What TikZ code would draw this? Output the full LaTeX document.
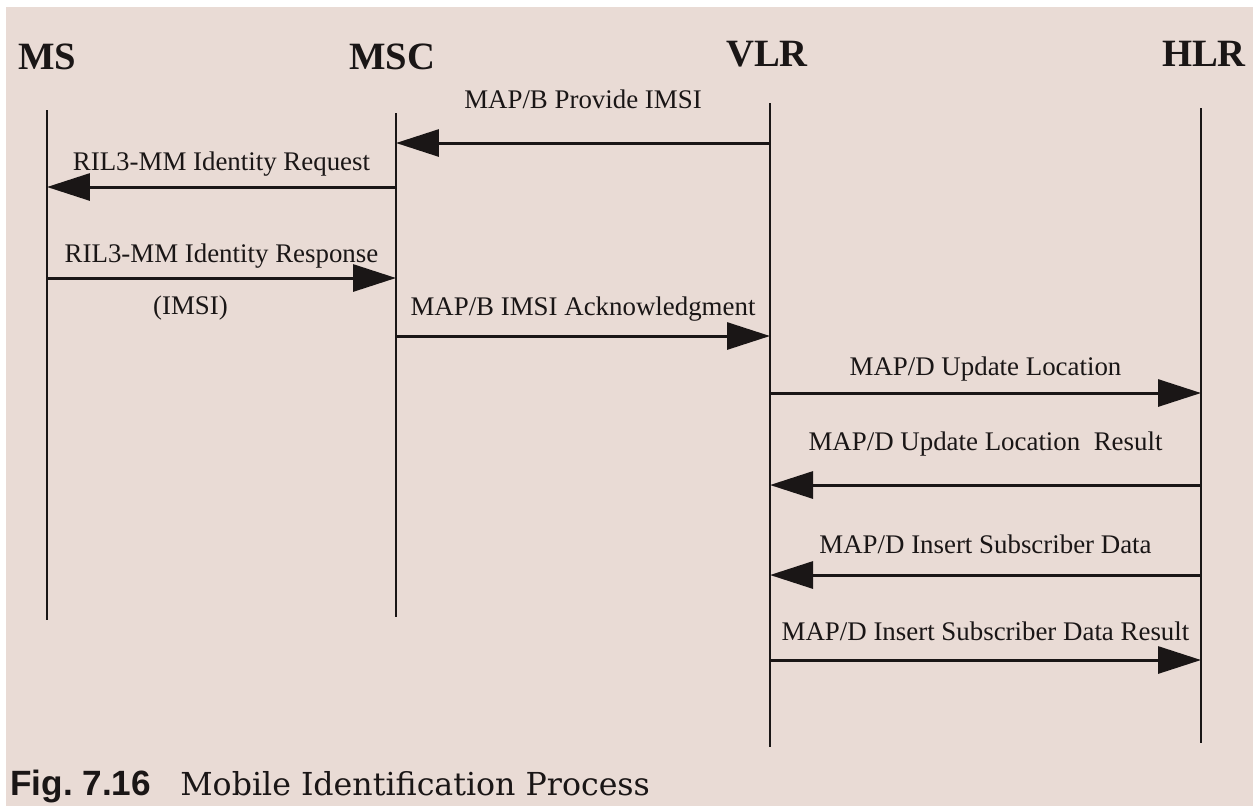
\documentclass[tikz,border=0pt]{standalone}
\usepackage{fontspec}
\usepackage{tikz}
\usetikzlibrary{arrows.meta}
\newfontfamily\msgfont{Liberation Serif}
\newfontfamily\figfont{Liberation Sans}
\newfontfamily\titlefont{DejaVu Serif}
\newcommand{\msgsize}{\msgfont\fontsize{15.3}{18}\selectfont}
\newcommand{\headsize}{\msgfont\bfseries\fontsize{22}{26}\selectfont}
\definecolor{paper}{RGB}{233,219,213}
\definecolor{ink}{RGB}{26,22,22}
\tikzset{>/.tip={Triangle[length=0.86cm,width=0.54cm]}}

\begin{document}
\begin{tikzpicture}[x=0.02cm,y=-0.02cm,color=ink]
\useasboundingbox (0,0) rectangle (1253,806);
\fill[white] (0,0) rectangle (1253,806);
\fill[paper] (6,7) rectangle (1253,806);

\node[anchor=base] (MS) at (47,69)  {\headsize MS};
\node[anchor=base] (MSC) at (392,69)  {\headsize MSC};
\node[anchor=base] (VLR) at (767,66)  {\headsize VLR};
\node[anchor=base] (HLR) at (1204,66)  {\headsize HLR};

\coordinate (MS-top) at (47,110);
\coordinate (MS-bot) at (47,620);
\coordinate (MSC-top) at (396,113);
\coordinate (MSC-bot) at (396,617);
\coordinate (VLR-top) at (770,103);
\coordinate (VLR-bot) at (770,747);
\coordinate (HLR-top) at (1201,108);
\coordinate (HLR-bot) at (1201,743);

\draw[line width=1.1pt] (MS-top) -- (MS-bot);
\draw[line width=1.1pt] (MSC-top) -- (MSC-bot);
\draw[line width=1.1pt] (VLR-top) -- (VLR-bot);
\draw[line width=1.1pt] (HLR-top) -- (HLR-bot);

\coordinate (MSC-1) at (396,143);
\coordinate (VLR-1) at (770,143);
\coordinate (MS-2) at (47,187);
\coordinate (MSC-2) at (396,187);
\coordinate (MS-3) at (47,278);
\coordinate (MSC-3) at (396,278);
\coordinate (MSC-4) at (396,336);
\coordinate (VLR-4) at (770,336);
\coordinate (VLR-5) at (770,393);
\coordinate (HLR-5) at (1201,393);
\coordinate (VLR-6) at (770,485);
\coordinate (HLR-6) at (1201,485);
\coordinate (VLR-7) at (770,575);
\coordinate (HLR-7) at (1201,575);
\coordinate (VLR-8) at (770,660);
\coordinate (HLR-8) at (1201,660);

\path[->,line width=1.7pt] (VLR-1) edge node[anchor=base,yshift=0.70cm] {\msgsize MAP/B Provide IMSI} (MSC-1);
\path[->,line width=1.7pt] (MSC-2) edge node[anchor=base,yshift=0.34cm] {\msgsize RIL3-MM Identity Request} (MS-2);
\path[->,line width=1.7pt] (MS-3) edge node[anchor=base,yshift=0.32cm] {\msgsize RIL3-MM Identity Response}
  node[anchor=base,xshift=-0.62cm,yshift=-0.72cm] {\msgsize (IMSI)} (MSC-3);
\path[->,line width=1.7pt] (MSC-4) edge node[anchor=base,yshift=0.42cm] {\msgsize MAP/B IMSI Acknowledgment} (VLR-4);
\path[->,line width=1.7pt] (VLR-5) edge node[anchor=base,yshift=0.36cm] {\msgsize MAP/D Update Location} (HLR-5);
\path[->,line width=1.7pt] (HLR-6) edge node[anchor=base,yshift=0.70cm] {\msgsize MAP/D Update Location\ \ Result} (VLR-6);
\path[->,line width=1.7pt] (HLR-7) edge node[anchor=base,yshift=0.44cm] {\msgsize MAP/D Insert Subscriber Data} (VLR-7);
\path[->,line width=1.7pt] (VLR-8) edge node[anchor=base,yshift=0.40cm] {\msgsize MAP/D Insert Subscriber Data Result} (HLR-8);

\node[anchor=base west,inner sep=0] (fig-num) at (10,795) {\figfont\bfseries\fontsize{20}{24}\selectfont Fig.\ 7.16};
\node[anchor=base west,inner sep=0] (fig-title) at (180,795) {\titlefont\fontsize{18}{22}\selectfont Mobile Identification Process};
\end{tikzpicture}
\end{document}
